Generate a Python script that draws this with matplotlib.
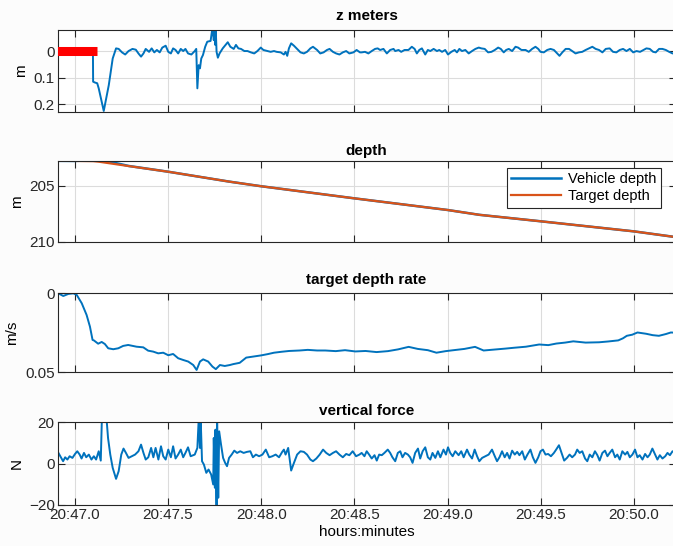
import matplotlib
matplotlib.use("Agg")
import matplotlib.pyplot as plt

plt.rcParams['font.family'] = ['Liberation Sans', 'DejaVu Sans']

# ---------------- data (time in minutes after 20:00) ----------------
x_ticks = [47.0, 47.5, 48.0, 48.5, 49.0, 49.5, 50.0]
x_tick_labels = ["20:47.0", "20:47.5", "20:48.0", "20:48.5", "20:49.0", "20:49.5", "20:50.0"]

# z meters: target (red) and measured (blue)
z_target_t = [46.90, 47.12]
z_target_v = [0.0, 0.0]

z_t = [47.098, 47.099, 47.108, 47.121, 47.129, 47.156, 47.183, 47.204, 47.222, 47.236,
       47.254, 47.271, 47.289, 47.310, 47.328, 47.342, 47.356, 47.369, 47.381, 47.399,
       47.413, 47.427, 47.441, 47.456, 47.470, 47.488, 47.502, 47.516, 47.528, 47.541,
       47.555, 47.569, 47.582, 47.594, 47.608, 47.626, 47.644, 47.652, 47.658, 47.665,
       47.672, 47.679, 47.688, 47.700, 47.711, 47.729, 47.736, 47.741, 47.746, 47.750,
       47.754, 47.757, 47.761, 47.768, 47.777, 47.794, 47.812, 47.821, 47.835, 47.853,
       47.865, 47.878, 47.892, 47.910, 47.927, 47.945, 47.963, 47.980, 47.998, 48.012,
       48.034, 48.051, 48.069, 48.083, 48.105, 48.122, 48.131, 48.140, 48.149, 48.161,
       48.176, 48.193, 48.211, 48.229, 48.246, 48.264, 48.278, 48.300, 48.317, 48.335,
       48.353, 48.367, 48.385, 48.402, 48.420, 48.438, 48.456, 48.473, 48.495, 48.512,
       48.530, 48.539, 48.557, 48.575, 48.593, 48.611, 48.625, 48.638, 48.656, 48.674,
       48.692, 48.710, 48.719, 48.737, 48.751, 48.769, 48.790, 48.808, 48.823, 48.835,
       48.848, 48.862, 48.880, 48.894, 48.907, 48.925, 48.943, 48.955, 48.970, 48.987,
       49.002, 49.020, 49.038, 49.050, 49.063, 49.077, 49.095, 49.113, 49.131, 49.149,
       49.167, 49.181, 49.199, 49.217, 49.235, 49.253, 49.271, 49.285, 49.301, 49.314,
       49.328, 49.346, 49.364, 49.378, 49.396, 49.418, 49.435, 49.453, 49.471, 49.486,
       49.498, 49.516, 49.534, 49.552, 49.570, 49.588, 49.600, 49.615, 49.633, 49.651,
       49.668, 49.686, 49.704, 49.722, 49.740, 49.758, 49.776, 49.794, 49.812, 49.830,
       49.848, 49.869, 49.887, 49.905, 49.923, 49.941, 49.959, 49.977, 49.995, 50.013,
       50.032, 50.050, 50.066, 50.084, 50.102, 50.116, 50.134, 50.152, 50.170, 50.188,
       50.206, 50.230]
z_v = [0.000, 0.115, 0.118, 0.121, 0.140, 0.225, 0.128, 0.028, -0.010, -0.008,
       0.005, 0.013, 0.000, -0.008, -0.005, 0.009, 0.021, 0.009, -0.008, 0.003,
       -0.010, 0.005, -0.004, 0.005, -0.013, -0.020, 0.003, 0.009, -0.010, -0.004,
       0.009, -0.008, 0.000, -0.008, 0.009, 0.013, 0.000, -0.008, 0.140, 0.053,
       0.065, 0.028, 0.015, -0.016, -0.035, -0.038, -0.073, -0.075, -0.041, -0.075,
       -0.023, -0.073, 0.003, 0.025, 0.009, -0.010, -0.025, -0.033, -0.016, -0.008,
       -0.023, -0.010, -0.008, 0.000, 0.000, 0.005, 0.009, 0.000, -0.013, -0.004,
       0.000, 0.003, 0.000, 0.003, 0.005, 0.013, 0.003, 0.018, -0.010, -0.029,
       -0.020, -0.008, 0.005, 0.009, 0.003, -0.010, -0.016, -0.004, 0.009, 0.005,
       -0.004, -0.008, 0.003, 0.009, 0.013, 0.005, 0.000, 0.009, 0.005, -0.004,
       0.005, 0.005, 0.003, 0.009, 0.000, -0.008, -0.010, -0.004, -0.008, 0.009,
       -0.004, -0.008, 0.000, -0.004, 0.003, -0.004, -0.004, -0.016, -0.008, 0.009,
       -0.004, -0.010, 0.013, -0.004, 0.000, -0.008, 0.000, -0.004, 0.003, -0.004,
       0.013, 0.003, -0.004, 0.005, -0.008, 0.000, -0.004, 0.009, 0.000, -0.008,
       -0.013, -0.010, -0.008, 0.005, 0.003, -0.004, -0.013, -0.008, 0.005, -0.004,
       -0.008, 0.000, -0.016, -0.013, -0.004, -0.004, 0.003, -0.008, -0.016, -0.008,
       0.003, 0.005, -0.004, -0.008, -0.004, 0.009, 0.018, 0.005, -0.008, -0.008,
       0.000, 0.009, 0.005, 0.003, -0.004, -0.010, -0.016, -0.008, -0.004, 0.005,
       -0.008, -0.010, 0.003, 0.005, -0.004, -0.008, 0.000, -0.008, 0.005, 0.000,
       0.003, -0.004, -0.010, -0.008, 0.003, 0.005, -0.008, -0.008, -0.004, 0.003,
       0.009, 0.005]

# depth
depth_target_t = [46.90, 47.00, 47.10, 47.13, 47.29, 47.50, 47.83, 48.00, 48.50, 49.00,
                  49.17, 49.50, 50.00, 50.25]
depth_target_v = [202.78, 202.79, 202.81, 202.86, 203.25, 203.75, 204.64, 205.05, 206.13, 207.17,
                  207.60, 208.18, 209.08, 209.65]
depth_vehicle_t = [46.90, 47.00, 47.08, 47.12, 47.17, 47.22, 47.29, 47.50, 47.83, 48.00,
                   48.50, 49.00, 49.17, 49.50, 50.00, 50.25]
depth_vehicle_v = [202.78, 202.79, 202.74, 202.71, 202.76, 202.98, 203.24, 203.75, 204.64, 205.05,
                   206.13, 207.17, 207.60, 208.18, 209.08, 209.65]

# target depth rate
rate_t = [46.912, 46.939, 46.966, 46.993, 47.011, 47.038, 47.064, 47.082, 47.096, 47.103,
          47.126, 47.145, 47.162, 47.180, 47.207, 47.234, 47.260, 47.287, 47.332, 47.368,
          47.394, 47.421, 47.448, 47.475, 47.502, 47.528, 47.555, 47.582, 47.609, 47.636,
          47.654, 47.672, 47.689, 47.716, 47.739, 47.757, 47.779, 47.805, 47.832, 47.851,
          47.885, 47.920, 47.960, 48.000, 48.035, 48.069, 48.110, 48.150, 48.206, 48.250,
          48.300, 48.344, 48.400, 48.450, 48.505, 48.560, 48.619, 48.680, 48.734, 48.791,
          48.840, 48.894, 48.940, 48.990, 49.032, 49.090, 49.147, 49.193, 49.261, 49.310,
          49.353, 49.420, 49.491, 49.540, 49.583, 49.630, 49.674, 49.740, 49.812, 49.860,
          49.915, 49.940, 49.961, 49.990, 50.018, 50.064, 50.100, 50.133, 50.170, 50.197,
          50.230]
rate_v = [0.0000, 0.0017, 0.0004, 0.0000, 0.0010, 0.0063, 0.0137, 0.0211, 0.0295, 0.0298,
          0.0319, 0.0308, 0.0321, 0.0348, 0.0354, 0.0348, 0.0333, 0.0327, 0.0338, 0.0342,
          0.0363, 0.0369, 0.0380, 0.0376, 0.0392, 0.0384, 0.0411, 0.0422, 0.0432, 0.0454,
          0.0485, 0.0432, 0.0418, 0.0432, 0.0464, 0.0480, 0.0454, 0.0460, 0.0454, 0.0448,
          0.0440, 0.0407, 0.0400, 0.0393, 0.0385, 0.0376, 0.0370, 0.0365, 0.0362, 0.0358,
          0.0362, 0.0362, 0.0366, 0.0360, 0.0368, 0.0365, 0.0372, 0.0366, 0.0355, 0.0339,
          0.0352, 0.0360, 0.0376, 0.0366, 0.0360, 0.0352, 0.0339, 0.0362, 0.0355, 0.0350,
          0.0345, 0.0338, 0.0324, 0.0328, 0.0318, 0.0312, 0.0304, 0.0312, 0.0310, 0.0305,
          0.0298, 0.0285, 0.0269, 0.0262, 0.0248, 0.0256, 0.0265, 0.0269, 0.0258, 0.0248,
          0.0250]

# vertical force
force_t = [46.913, 46.926, 46.938, 46.949, 46.961, 46.973, 46.988, 47.002, 47.014, 47.027,
           47.037, 47.050, 47.062, 47.076, 47.090, 47.103, 47.115, 47.129, 47.140, 47.147,
           47.168, 47.179, 47.191, 47.204, 47.222, 47.236, 47.250, 47.262, 47.275, 47.289,
           47.307, 47.324, 47.342, 47.356, 47.369, 47.381, 47.395, 47.410, 47.422, 47.434,
           47.449, 47.463, 47.475, 47.488, 47.502, 47.516, 47.528, 47.541, 47.555, 47.569,
           47.582, 47.594, 47.608, 47.622, 47.644, 47.658, 47.665, 47.672, 47.676, 47.683,
           47.693, 47.706, 47.718, 47.732, 47.743, 47.746, 47.752, 47.755, 47.761, 47.764,
           47.770, 47.775, 47.785, 47.796, 47.807, 47.817, 47.828, 47.842, 47.856, 47.871,
           47.888, 47.906, 47.924, 47.942, 47.956, 47.972, 47.989, 48.007, 48.025, 48.043,
           48.060, 48.078, 48.096, 48.113, 48.122, 48.131, 48.145, 48.161, 48.176, 48.193,
           48.211, 48.229, 48.246, 48.264, 48.278, 48.296, 48.314, 48.332, 48.349, 48.367,
           48.385, 48.402, 48.420, 48.438, 48.456, 48.473, 48.491, 48.509, 48.527,
           48.539, 48.554, 48.566, 48.579, 48.593, 48.608, 48.620, 48.633, 48.647, 48.661,
           48.679, 48.692, 48.704, 48.719, 48.733, 48.746, 48.758, 48.772, 48.787, 48.799,
           48.812, 48.826, 48.841, 48.853, 48.866, 48.880, 48.894, 48.907, 48.919, 48.934,
           48.948, 48.961, 48.978, 48.991, 49.002, 49.014, 49.027, 49.041, 49.059, 49.073,
           49.086, 49.104, 49.116, 49.131, 49.145, 49.158, 49.170, 49.185, 49.203, 49.220,
           49.238, 49.253, 49.265, 49.278, 49.292, 49.306, 49.319, 49.332, 49.346, 49.360,
           49.373, 49.385, 49.400, 49.414, 49.428, 49.444, 49.457, 49.471, 49.486, 49.498,
           49.511, 49.525, 49.539, 49.554, 49.570, 49.582, 49.597, 49.611, 49.625, 49.640,
           49.654, 49.668, 49.683, 49.695, 49.708, 49.722, 49.737, 49.749, 49.762, 49.776,
           49.790, 49.803, 49.815, 49.830, 49.844, 49.857, 49.869, 49.883, 49.898, 49.910,
           49.923, 49.937, 49.952, 49.964, 49.977, 49.991, 50.005, 50.018, 50.030, 50.045,
           50.059, 50.072, 50.084, 50.098, 50.113, 50.125, 50.138, 50.152, 50.167, 50.179,
           50.192, 50.206, 50.230]
force_v = [5.1, 3.0, 1.1, 3.0, 1.9, 3.5, 2.7, 4.6, 5.9, 4.3,
           2.4, 5.1, 3.0, 4.3, 1.9, 3.5, 1.9, 5.9, 1.4, 25.0,
           25.0, 12.3, 4.3, -2.1, -7.4, -3.7, 4.3, 7.2, 5.1, 2.7,
           3.5, 4.3, 5.9, 9.1, 5.1, 1.9, 3.0, 7.5, 3.0, 7.5,
           1.9, 8.3, 3.5, 1.9, 6.7, 3.0, 8.3, 2.4, 4.3, 6.7,
           3.0, 5.1, 7.8, 3.5, 4.3, 7.5, 21.0, 7.5, 21.0, 1.1,
           -0.5, -4.5, -2.9, -5.3, -10.1, 12.3, -11.7, 16.3, -24.0, 21.0,
           -16.5, 15.5, 9.1, 2.7, 0.3, -1.3, 2.7, 4.3, 6.2, 5.1,
           5.9, 5.1, 5.6, 5.9, 3.0, 4.3, 3.5, 4.3, 6.7, 3.0,
           3.5, 4.3, 3.0, 5.6, 6.7, 4.3, 7.5, -3.4, 0.3, 4.3,
           5.9, 5.6, 4.3, 1.9, 1.1, 2.4, 4.3, 6.7, 5.1, 4.0,
           5.1, 5.9, 4.3, 3.0, 4.6, 4.0, 5.9, 3.5, 4.3,
           5.1, 3.5, 5.9, 4.3, 2.4, 4.0, 1.4, 4.3, 4.0, 5.1,
           6.7, 5.1, 3.0, 1.1, 5.1, 5.9, 3.0, 5.1, 4.3, 3.0,
           0.3, 5.1, 7.2, 2.4, 5.9, 7.8, 3.0, 1.9, 5.1, 2.7,
           5.9, 3.0, 6.7, 4.3, 7.8, 5.1, 3.5, 5.9, 4.0, 5.9,
           3.0, 6.7, 4.3, 2.4, 6.7, 3.5, 1.1, 2.7, 3.5, 4.3,
           6.7, 3.5, 1.1, 3.0, 5.9, 3.0, 5.1, 2.4, 6.2, 4.3,
           5.6, 4.0, 5.9, 1.9, 4.3, 6.7, 3.0, 0.3, 3.0, 5.9,
           6.7, 4.3, 4.6, 3.5, 5.1, 6.7, 8.8, 5.1, 1.4, 2.7,
           4.3, 3.0, 4.3, 6.7, 5.1, 5.9, 2.4, 1.1, 4.3, 3.0,
           5.9, 4.0, 1.4, 5.1, 6.2, 3.5, 5.1, 6.7, 3.0, 4.3,
           1.9, 5.9, 4.3, 5.6, 3.0, 4.3, 6.7, 3.0, 4.0, 1.9,
           4.6, 3.0, 4.3, 7.2, 4.3, 1.9, 4.0, 2.4, 3.5, 5.1,
           4.0, 5.9, 4.5]

# ---------------- styling ----------------
BLUE = "#0072BD"
ORANGE = "#D95319"
AX_COL = "#262626"
GRID_COL = "#dcdcdc"
FS = 11

W, H = 673, 546
fig = plt.figure(figsize=(W / 100, H / 100), dpi=100, facecolor="#fcfcfc")

left = 57.5 / W
width = 618.0 / W


def make_ax(top_px, bot_px):
    return fig.add_axes([left, 1 - bot_px / H, width, (bot_px - top_px) / H])


def style(ax, title, ylabel, show_xlabels=False, tpad=7):
    ax.set_xlim(46.908, 50.222)
    ax.set_xticks(x_ticks)
    if show_xlabels:
        ax.set_xticklabels(x_tick_labels)
    else:
        ax.set_xticklabels([])
    ax.grid(True, color=GRID_COL, linewidth=0.8)
    ax.set_axisbelow(True)
    ax.tick_params(direction="in", length=5, width=0.8, colors=AX_COL,
                   labelsize=FS, top=True, right=True, pad=2)
    for s in ax.spines.values():
        s.set_color(AX_COL)
        s.set_linewidth(0.8)
    ax.set_title(title, fontsize=FS, fontweight="bold", pad=tpad)
    ax.set_ylabel(ylabel, fontsize=FS, labelpad=4)


# panel 1: z meters
ax1 = make_ax(30.0, 112.3)
ax1.plot(z_target_t, z_target_v, color="red", linewidth=6.5, solid_capstyle="butt", zorder=3)
ax1.plot(z_t, z_v, color=BLUE, linewidth=1.4, zorder=2)
ax1.set_ylim(0.23, -0.079)
ax1.set_yticks([0, 0.1, 0.2])
ax1.set_yticklabels(["0", "0.1", "0.2"])
style(ax1, "z meters", "m")

# panel 2: depth
ax2 = make_ax(160.7, 241.7)
ax2.plot(depth_vehicle_t, depth_vehicle_v, color=BLUE, linewidth=1.8, label="Vehicle depth")
ax2.plot(depth_target_t, depth_target_v, color=ORANGE, linewidth=1.6, label="Target depth")
ax2.set_ylim(210, 202.77)
ax2.set_yticks([205, 210])
style(ax2, "depth", "m", tpad=4)
leg = ax2.legend(loc="upper right", bbox_to_anchor=(0.976, 0.91), fontsize=10.5,
                 frameon=True, fancybox=False, edgecolor=AX_COL, framealpha=1,
                 handlelength=3.4, borderpad=0.3, labelspacing=0.2, handletextpad=0.5,
                 borderaxespad=0.0)
leg.get_frame().set_linewidth(0.8)

# panel 3: target depth rate
ax3 = make_ax(293.3, 372.3)
ax3.plot(rate_t, rate_v, color=BLUE, linewidth=1.4)
ax3.set_ylim(0.05, 0)
ax3.set_yticks([0, 0.05])
ax3.set_yticklabels(["0", "0.05"])
style(ax3, "target depth rate", "m/s")

# panel 4: vertical force
ax4 = make_ax(422.0, 505.0)
ax4.plot(force_t, force_v, color=BLUE, linewidth=1.4)
ax4.set_ylim(-20, 20)
ax4.set_yticks([-20, 0, 20])
style(ax4, "vertical force", "N", show_xlabels=True, tpad=5)
ax4.set_xlabel("hours:minutes", fontsize=FS, labelpad=2)

fig.savefig("out.png", dpi=100, facecolor=fig.get_facecolor())
